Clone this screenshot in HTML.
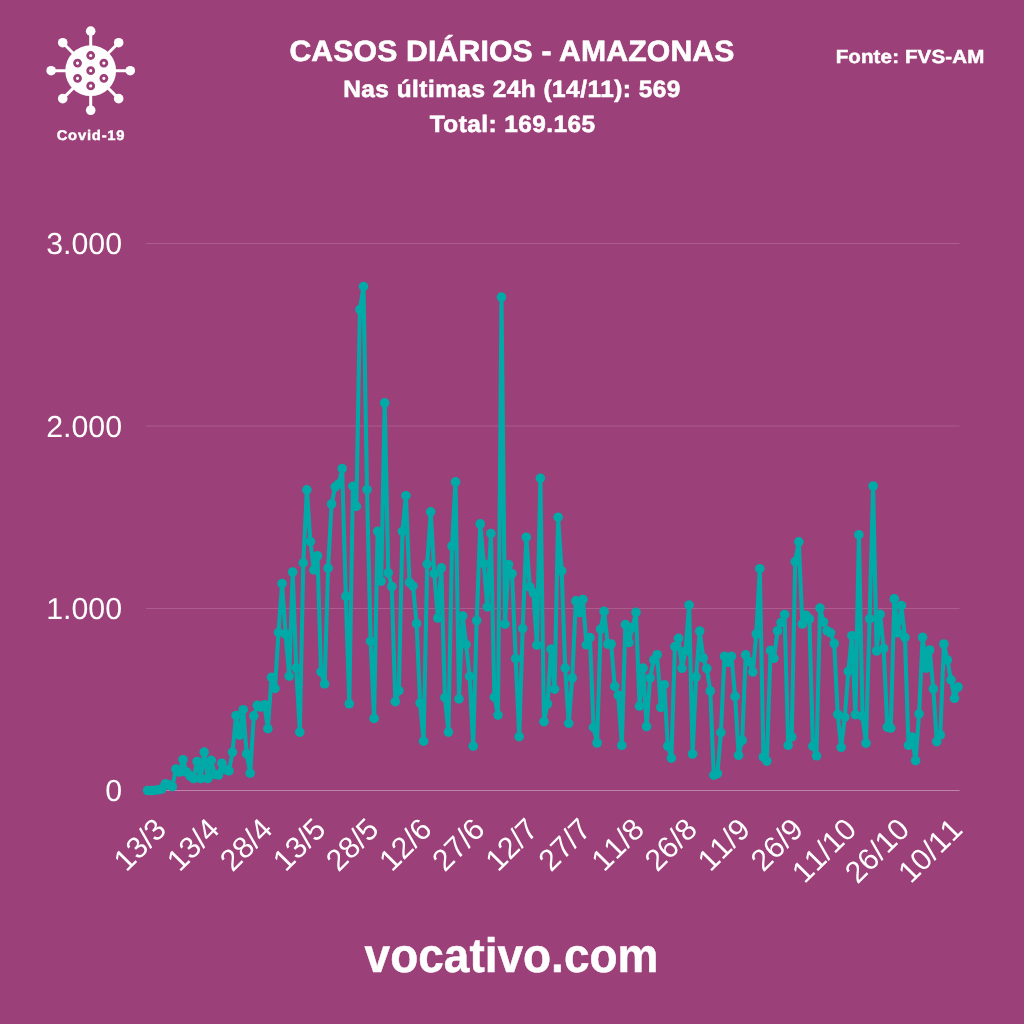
<!DOCTYPE html>
<html lang="pt-BR">
<head>
<meta charset="utf-8">
<title>Casos diários - Amazonas</title>
<style>
html,body{margin:0;padding:0;background:#9b4079;}
body{width:1024px;height:1024px;overflow:hidden;}
svg{display:block;}
text{font-family:'Liberation Sans', Arial, sans-serif;fill:#fff;text-rendering:geometricPrecision;}
.b{font-weight:bold;}
.ax{font-kerning:none;}
</style>
</head>
<body>
<svg width="1024" height="1024" viewBox="0 0 1024 1024">
<rect width="1024" height="1024" fill="#9b4079"/>
<g opacity="0.999">
<g id="virus">
<line x1="90.7" y1="70.7" x2="130.25" y2="70.70" stroke="#fff" stroke-width="3"/>
<circle cx="130.25" cy="70.70" r="4.8" fill="#fff"/>
<line x1="90.7" y1="70.7" x2="118.67" y2="98.67" stroke="#fff" stroke-width="3"/>
<circle cx="118.67" cy="98.67" r="4.8" fill="#fff"/>
<line x1="90.7" y1="70.7" x2="90.70" y2="110.25" stroke="#fff" stroke-width="3"/>
<circle cx="90.70" cy="110.25" r="4.8" fill="#fff"/>
<line x1="90.7" y1="70.7" x2="62.73" y2="98.67" stroke="#fff" stroke-width="3"/>
<circle cx="62.73" cy="98.67" r="4.8" fill="#fff"/>
<line x1="90.7" y1="70.7" x2="51.15" y2="70.70" stroke="#fff" stroke-width="3"/>
<circle cx="51.15" cy="70.70" r="4.8" fill="#fff"/>
<line x1="90.7" y1="70.7" x2="62.73" y2="42.73" stroke="#fff" stroke-width="3"/>
<circle cx="62.73" cy="42.73" r="4.8" fill="#fff"/>
<line x1="90.7" y1="70.7" x2="90.70" y2="31.15" stroke="#fff" stroke-width="3"/>
<circle cx="90.70" cy="31.15" r="4.8" fill="#fff"/>
<line x1="90.7" y1="70.7" x2="118.67" y2="42.73" stroke="#fff" stroke-width="3"/>
<circle cx="118.67" cy="42.73" r="4.8" fill="#fff"/>
<circle cx="90.7" cy="70.7" r="25.4" fill="#fff"/>
<circle cx="90.70" cy="70.70" r="3" fill="#fff" stroke="#9b4079" stroke-width="2.8"/>
<circle cx="90.70" cy="85.90" r="3" fill="#fff" stroke="#9b4079" stroke-width="2.8"/>
<circle cx="77.54" cy="78.30" r="3" fill="#fff" stroke="#9b4079" stroke-width="2.8"/>
<circle cx="77.54" cy="63.10" r="3" fill="#fff" stroke="#9b4079" stroke-width="2.8"/>
<circle cx="90.70" cy="55.50" r="3" fill="#fff" stroke="#9b4079" stroke-width="2.8"/>
<circle cx="103.86" cy="63.10" r="3" fill="#fff" stroke="#9b4079" stroke-width="2.8"/>
<circle cx="103.86" cy="78.30" r="3" fill="#fff" stroke="#9b4079" stroke-width="2.8"/>
</g>
<text class="b" x="0" y="0" font-size="14" text-anchor="middle" letter-spacing="0.71" stroke="#fff" stroke-width="0.4" transform="translate(91.0 140.0) scale(1.06 1)">Covid-19</text>
<text class="b" x="0" y="0" font-size="29.3" text-anchor="middle" letter-spacing="0.15" stroke="#fff" stroke-width="0.6" transform="translate(512 60.6) scale(1.03 1)">CASOS DIÁRIOS - AMAZONAS</text>
<text class="b" x="0" y="0" font-size="23.7" text-anchor="middle" letter-spacing="0.47" stroke="#fff" stroke-width="0.6" transform="translate(512 96.5) scale(1.03 1)">Nas últimas 24h (14/11): 569</text>
<text class="b" x="0" y="0" font-size="23.7" text-anchor="middle" letter-spacing="0.43" stroke="#fff" stroke-width="0.6" transform="translate(512.7 131.6) scale(1.03 1)">Total: 169.165</text>
<text class="b" x="0" y="0" font-size="19" text-anchor="middle" letter-spacing="0.12" stroke="#fff" stroke-width="0.5" transform="translate(910 63.3) scale(1.08 1)">Fonte: FVS-AM</text>
<line x1="146" y1="790.5" x2="959.5" y2="790.5" stroke="#c084ac" stroke-width="1"/>
<text class="ax" x="122.0" y="801.3" font-size="30.3" text-anchor="end">0</text>
<line x1="146" y1="608.5" x2="959.5" y2="608.5" stroke="#ab5e8f" stroke-width="1"/>
<text class="ax" x="122.0" y="619.3" font-size="30.3" text-anchor="end">1.000</text>
<line x1="146" y1="426.0" x2="959.5" y2="426.0" stroke="#ab5e8f" stroke-width="1"/>
<text class="ax" x="122.0" y="436.8" font-size="30.3" text-anchor="end">2.000</text>
<line x1="146" y1="243.5" x2="959.5" y2="243.5" stroke="#ab5e8f" stroke-width="1"/>
<text class="ax" x="122.0" y="254.3" font-size="30.3" text-anchor="end">3.000</text>
<polyline fill="none" stroke="#00aaa8" stroke-width="4.1" stroke-linejoin="round" stroke-linecap="round" points="147.6,790.5 151.1,790.5 154.7,790.3 158.2,789.8 161.8,789.0 165.3,783.8 168.8,784.9 172.4,786.7 175.9,769.1 179.5,772.0 183.0,759.7 186.5,772.0 190.1,776.1 193.6,778.5 197.1,761.5 200.7,778.5 204.2,752.1 207.8,778.5 211.3,760.3 214.8,774.4 218.4,775.0 221.9,763.2 225.5,769.7 229.0,770.9 232.5,752.1 236.1,715.5 239.6,735.1 243.2,709.7 246.7,753.9 250.2,773.2 253.8,715.8 257.3,705.4 260.8,707.0 264.4,704.7 267.9,728.7 271.5,677.3 275.0,688.4 278.5,632.5 282.1,583.6 285.6,634.0 289.2,676.1 292.7,572.0 296.2,667.8 299.8,732.1 303.3,562.9 306.9,489.8 310.4,541.6 313.9,569.9 317.5,555.9 321.0,671.8 324.6,683.9 328.1,568.2 331.6,504.0 335.2,486.9 338.7,484.0 342.2,468.6 345.8,596.4 349.3,703.8 352.9,486.2 356.4,506.4 359.9,309.6 363.5,286.6 367.0,489.5 370.6,641.2 374.1,718.4 377.6,531.3 381.2,581.2 384.7,402.9 388.3,572.9 391.8,586.5 395.3,701.7 398.9,690.6 402.4,531.3 405.9,495.7 409.5,582.5 413.0,586.1 416.6,623.7 420.1,703.0 423.6,741.2 427.2,564.1 430.7,511.8 434.3,573.7 437.8,618.0 441.3,567.9 444.9,697.7 448.4,732.1 452.0,546.0 455.5,481.9 459.0,698.9 462.6,616.0 466.1,644.6 469.6,676.4 473.2,746.2 476.7,620.5 480.3,523.9 483.8,563.7 487.3,606.9 490.9,533.5 494.4,697.2 498.0,715.1 501.5,297.1 505.0,624.2 508.6,564.6 512.1,573.7 515.7,658.7 519.2,736.7 522.7,628.6 526.3,537.2 529.8,587.0 533.4,592.8 536.9,645.2 540.4,478.2 544.0,721.6 547.5,703.8 551.0,649.1 554.6,689.2 558.1,517.2 561.7,570.9 565.2,668.1 568.7,723.3 572.3,678.0 575.8,600.9 579.4,612.5 582.9,599.5 586.4,644.8 590.0,637.6 593.5,727.4 597.1,743.0 600.6,629.1 604.1,611.4 607.7,644.1 611.2,644.1 614.7,686.4 618.3,695.3 621.8,745.4 625.4,624.6 628.9,642.5 632.4,627.6 636.0,612.4 639.5,706.1 643.1,668.1 646.6,726.5 650.1,678.0 653.7,660.0 657.2,654.7 660.8,707.4 664.3,684.7 667.8,746.2 671.4,758.1 674.9,646.6 678.5,638.3 682.0,668.3 685.5,651.0 689.1,605.1 692.6,754.0 696.1,676.8 699.7,631.1 703.2,657.8 706.8,668.5 710.3,691.0 713.8,775.2 717.4,773.6 720.9,732.6 724.5,656.3 728.0,662.3 731.5,656.3 735.1,696.4 738.6,755.3 742.2,740.4 745.7,654.9 749.2,661.5 752.8,672.0 756.3,634.0 759.8,568.7 763.4,757.0 766.9,761.1 770.5,650.4 774.0,658.3 777.5,630.8 781.1,622.5 784.6,614.5 788.2,745.3 791.7,737.0 795.2,561.6 798.8,541.8 802.3,624.0 805.9,615.2 809.4,618.8 812.9,746.2 816.5,755.8 820.0,608.1 823.5,622.0 827.1,630.8 830.6,632.8 834.2,643.5 837.7,714.3 841.2,747.3 844.8,717.1 848.3,671.4 851.9,635.7 855.4,714.6 858.9,534.7 862.5,716.3 866.0,743.2 869.6,618.8 873.1,486.0 876.6,651.0 880.2,614.3 883.7,648.5 887.3,727.1 890.8,728.2 894.3,598.9 897.9,632.8 901.4,605.6 904.9,637.5 908.5,745.3 912.0,737.0 915.6,760.6 919.1,713.8 922.6,637.3 926.2,668.1 929.7,650.0 933.3,688.9 936.8,741.6 940.3,734.8 943.9,644.0 947.4,660.0 951.0,679.9 954.5,698.3 958.0,687.0"/>
<g fill="#00aaa8">
<circle cx="147.6" cy="790.5" r="4.8"/><circle cx="151.1" cy="790.5" r="4.8"/><circle cx="154.7" cy="790.3" r="4.8"/><circle cx="158.2" cy="789.8" r="4.8"/><circle cx="161.8" cy="789.0" r="4.8"/><circle cx="165.3" cy="783.8" r="4.8"/><circle cx="168.8" cy="784.9" r="4.8"/><circle cx="172.4" cy="786.7" r="4.8"/><circle cx="175.9" cy="769.1" r="4.8"/><circle cx="179.5" cy="772.0" r="4.8"/><circle cx="183.0" cy="759.7" r="4.8"/><circle cx="186.5" cy="772.0" r="4.8"/><circle cx="190.1" cy="776.1" r="4.8"/><circle cx="193.6" cy="778.5" r="4.8"/><circle cx="197.1" cy="761.5" r="4.8"/><circle cx="200.7" cy="778.5" r="4.8"/><circle cx="204.2" cy="752.1" r="4.8"/><circle cx="207.8" cy="778.5" r="4.8"/><circle cx="211.3" cy="760.3" r="4.8"/><circle cx="214.8" cy="774.4" r="4.8"/><circle cx="218.4" cy="775.0" r="4.8"/><circle cx="221.9" cy="763.2" r="4.8"/><circle cx="225.5" cy="769.7" r="4.8"/><circle cx="229.0" cy="770.9" r="4.8"/><circle cx="232.5" cy="752.1" r="4.8"/><circle cx="236.1" cy="715.5" r="4.8"/><circle cx="239.6" cy="735.1" r="4.8"/><circle cx="243.2" cy="709.7" r="4.8"/><circle cx="246.7" cy="753.9" r="4.8"/><circle cx="250.2" cy="773.2" r="4.8"/><circle cx="253.8" cy="715.8" r="4.8"/><circle cx="257.3" cy="705.4" r="4.8"/><circle cx="260.8" cy="707.0" r="4.8"/><circle cx="264.4" cy="704.7" r="4.8"/><circle cx="267.9" cy="728.7" r="4.8"/><circle cx="271.5" cy="677.3" r="4.8"/><circle cx="275.0" cy="688.4" r="4.8"/><circle cx="278.5" cy="632.5" r="4.8"/><circle cx="282.1" cy="583.6" r="4.8"/><circle cx="285.6" cy="634.0" r="4.8"/><circle cx="289.2" cy="676.1" r="4.8"/><circle cx="292.7" cy="572.0" r="4.8"/><circle cx="296.2" cy="667.8" r="4.8"/><circle cx="299.8" cy="732.1" r="4.8"/><circle cx="303.3" cy="562.9" r="4.8"/><circle cx="306.9" cy="489.8" r="4.8"/><circle cx="310.4" cy="541.6" r="4.8"/><circle cx="313.9" cy="569.9" r="4.8"/><circle cx="317.5" cy="555.9" r="4.8"/><circle cx="321.0" cy="671.8" r="4.8"/><circle cx="324.6" cy="683.9" r="4.8"/><circle cx="328.1" cy="568.2" r="4.8"/><circle cx="331.6" cy="504.0" r="4.8"/><circle cx="335.2" cy="486.9" r="4.8"/><circle cx="338.7" cy="484.0" r="4.8"/><circle cx="342.2" cy="468.6" r="4.8"/><circle cx="345.8" cy="596.4" r="4.8"/><circle cx="349.3" cy="703.8" r="4.8"/><circle cx="352.9" cy="486.2" r="4.8"/><circle cx="356.4" cy="506.4" r="4.8"/><circle cx="359.9" cy="309.6" r="4.8"/><circle cx="363.5" cy="286.6" r="4.8"/><circle cx="367.0" cy="489.5" r="4.8"/><circle cx="370.6" cy="641.2" r="4.8"/><circle cx="374.1" cy="718.4" r="4.8"/><circle cx="377.6" cy="531.3" r="4.8"/><circle cx="381.2" cy="581.2" r="4.8"/><circle cx="384.7" cy="402.9" r="4.8"/><circle cx="388.3" cy="572.9" r="4.8"/><circle cx="391.8" cy="586.5" r="4.8"/><circle cx="395.3" cy="701.7" r="4.8"/><circle cx="398.9" cy="690.6" r="4.8"/><circle cx="402.4" cy="531.3" r="4.8"/><circle cx="405.9" cy="495.7" r="4.8"/><circle cx="409.5" cy="582.5" r="4.8"/><circle cx="413.0" cy="586.1" r="4.8"/><circle cx="416.6" cy="623.7" r="4.8"/><circle cx="420.1" cy="703.0" r="4.8"/><circle cx="423.6" cy="741.2" r="4.8"/><circle cx="427.2" cy="564.1" r="4.8"/><circle cx="430.7" cy="511.8" r="4.8"/><circle cx="434.3" cy="573.7" r="4.8"/><circle cx="437.8" cy="618.0" r="4.8"/><circle cx="441.3" cy="567.9" r="4.8"/><circle cx="444.9" cy="697.7" r="4.8"/><circle cx="448.4" cy="732.1" r="4.8"/><circle cx="452.0" cy="546.0" r="4.8"/><circle cx="455.5" cy="481.9" r="4.8"/><circle cx="459.0" cy="698.9" r="4.8"/><circle cx="462.6" cy="616.0" r="4.8"/><circle cx="466.1" cy="644.6" r="4.8"/><circle cx="469.6" cy="676.4" r="4.8"/><circle cx="473.2" cy="746.2" r="4.8"/><circle cx="476.7" cy="620.5" r="4.8"/><circle cx="480.3" cy="523.9" r="4.8"/><circle cx="483.8" cy="563.7" r="4.8"/><circle cx="487.3" cy="606.9" r="4.8"/><circle cx="490.9" cy="533.5" r="4.8"/><circle cx="494.4" cy="697.2" r="4.8"/><circle cx="498.0" cy="715.1" r="4.8"/><circle cx="501.5" cy="297.1" r="4.8"/><circle cx="505.0" cy="624.2" r="4.8"/><circle cx="508.6" cy="564.6" r="4.8"/><circle cx="512.1" cy="573.7" r="4.8"/><circle cx="515.7" cy="658.7" r="4.8"/><circle cx="519.2" cy="736.7" r="4.8"/><circle cx="522.7" cy="628.6" r="4.8"/><circle cx="526.3" cy="537.2" r="4.8"/><circle cx="529.8" cy="587.0" r="4.8"/><circle cx="533.4" cy="592.8" r="4.8"/><circle cx="536.9" cy="645.2" r="4.8"/><circle cx="540.4" cy="478.2" r="4.8"/><circle cx="544.0" cy="721.6" r="4.8"/><circle cx="547.5" cy="703.8" r="4.8"/><circle cx="551.0" cy="649.1" r="4.8"/><circle cx="554.6" cy="689.2" r="4.8"/><circle cx="558.1" cy="517.2" r="4.8"/><circle cx="561.7" cy="570.9" r="4.8"/><circle cx="565.2" cy="668.1" r="4.8"/><circle cx="568.7" cy="723.3" r="4.8"/><circle cx="572.3" cy="678.0" r="4.8"/><circle cx="575.8" cy="600.9" r="4.8"/><circle cx="579.4" cy="612.5" r="4.8"/><circle cx="582.9" cy="599.5" r="4.8"/><circle cx="586.4" cy="644.8" r="4.8"/><circle cx="590.0" cy="637.6" r="4.8"/><circle cx="593.5" cy="727.4" r="4.8"/><circle cx="597.1" cy="743.0" r="4.8"/><circle cx="600.6" cy="629.1" r="4.8"/><circle cx="604.1" cy="611.4" r="4.8"/><circle cx="607.7" cy="644.1" r="4.8"/><circle cx="611.2" cy="644.1" r="4.8"/><circle cx="614.7" cy="686.4" r="4.8"/><circle cx="618.3" cy="695.3" r="4.8"/><circle cx="621.8" cy="745.4" r="4.8"/><circle cx="625.4" cy="624.6" r="4.8"/><circle cx="628.9" cy="642.5" r="4.8"/><circle cx="632.4" cy="627.6" r="4.8"/><circle cx="636.0" cy="612.4" r="4.8"/><circle cx="639.5" cy="706.1" r="4.8"/><circle cx="643.1" cy="668.1" r="4.8"/><circle cx="646.6" cy="726.5" r="4.8"/><circle cx="650.1" cy="678.0" r="4.8"/><circle cx="653.7" cy="660.0" r="4.8"/><circle cx="657.2" cy="654.7" r="4.8"/><circle cx="660.8" cy="707.4" r="4.8"/><circle cx="664.3" cy="684.7" r="4.8"/><circle cx="667.8" cy="746.2" r="4.8"/><circle cx="671.4" cy="758.1" r="4.8"/><circle cx="674.9" cy="646.6" r="4.8"/><circle cx="678.5" cy="638.3" r="4.8"/><circle cx="682.0" cy="668.3" r="4.8"/><circle cx="685.5" cy="651.0" r="4.8"/><circle cx="689.1" cy="605.1" r="4.8"/><circle cx="692.6" cy="754.0" r="4.8"/><circle cx="696.1" cy="676.8" r="4.8"/><circle cx="699.7" cy="631.1" r="4.8"/><circle cx="703.2" cy="657.8" r="4.8"/><circle cx="706.8" cy="668.5" r="4.8"/><circle cx="710.3" cy="691.0" r="4.8"/><circle cx="713.8" cy="775.2" r="4.8"/><circle cx="717.4" cy="773.6" r="4.8"/><circle cx="720.9" cy="732.6" r="4.8"/><circle cx="724.5" cy="656.3" r="4.8"/><circle cx="728.0" cy="662.3" r="4.8"/><circle cx="731.5" cy="656.3" r="4.8"/><circle cx="735.1" cy="696.4" r="4.8"/><circle cx="738.6" cy="755.3" r="4.8"/><circle cx="742.2" cy="740.4" r="4.8"/><circle cx="745.7" cy="654.9" r="4.8"/><circle cx="749.2" cy="661.5" r="4.8"/><circle cx="752.8" cy="672.0" r="4.8"/><circle cx="756.3" cy="634.0" r="4.8"/><circle cx="759.8" cy="568.7" r="4.8"/><circle cx="763.4" cy="757.0" r="4.8"/><circle cx="766.9" cy="761.1" r="4.8"/><circle cx="770.5" cy="650.4" r="4.8"/><circle cx="774.0" cy="658.3" r="4.8"/><circle cx="777.5" cy="630.8" r="4.8"/><circle cx="781.1" cy="622.5" r="4.8"/><circle cx="784.6" cy="614.5" r="4.8"/><circle cx="788.2" cy="745.3" r="4.8"/><circle cx="791.7" cy="737.0" r="4.8"/><circle cx="795.2" cy="561.6" r="4.8"/><circle cx="798.8" cy="541.8" r="4.8"/><circle cx="802.3" cy="624.0" r="4.8"/><circle cx="805.9" cy="615.2" r="4.8"/><circle cx="809.4" cy="618.8" r="4.8"/><circle cx="812.9" cy="746.2" r="4.8"/><circle cx="816.5" cy="755.8" r="4.8"/><circle cx="820.0" cy="608.1" r="4.8"/><circle cx="823.5" cy="622.0" r="4.8"/><circle cx="827.1" cy="630.8" r="4.8"/><circle cx="830.6" cy="632.8" r="4.8"/><circle cx="834.2" cy="643.5" r="4.8"/><circle cx="837.7" cy="714.3" r="4.8"/><circle cx="841.2" cy="747.3" r="4.8"/><circle cx="844.8" cy="717.1" r="4.8"/><circle cx="848.3" cy="671.4" r="4.8"/><circle cx="851.9" cy="635.7" r="4.8"/><circle cx="855.4" cy="714.6" r="4.8"/><circle cx="858.9" cy="534.7" r="4.8"/><circle cx="862.5" cy="716.3" r="4.8"/><circle cx="866.0" cy="743.2" r="4.8"/><circle cx="869.6" cy="618.8" r="4.8"/><circle cx="873.1" cy="486.0" r="4.8"/><circle cx="876.6" cy="651.0" r="4.8"/><circle cx="880.2" cy="614.3" r="4.8"/><circle cx="883.7" cy="648.5" r="4.8"/><circle cx="887.3" cy="727.1" r="4.8"/><circle cx="890.8" cy="728.2" r="4.8"/><circle cx="894.3" cy="598.9" r="4.8"/><circle cx="897.9" cy="632.8" r="4.8"/><circle cx="901.4" cy="605.6" r="4.8"/><circle cx="904.9" cy="637.5" r="4.8"/><circle cx="908.5" cy="745.3" r="4.8"/><circle cx="912.0" cy="737.0" r="4.8"/><circle cx="915.6" cy="760.6" r="4.8"/><circle cx="919.1" cy="713.8" r="4.8"/><circle cx="922.6" cy="637.3" r="4.8"/><circle cx="926.2" cy="668.1" r="4.8"/><circle cx="929.7" cy="650.0" r="4.8"/><circle cx="933.3" cy="688.9" r="4.8"/><circle cx="936.8" cy="741.6" r="4.8"/><circle cx="940.3" cy="734.8" r="4.8"/><circle cx="943.9" cy="644.0" r="4.8"/><circle cx="947.4" cy="660.0" r="4.8"/><circle cx="951.0" cy="679.9" r="4.8"/><circle cx="954.5" cy="698.3" r="4.8"/><circle cx="958.0" cy="687.0" r="4.8"/>
</g>
<text class="ax" x="168.0" y="831.0" font-size="30.3" text-anchor="end" transform="rotate(-45 168.0 831.0)">13/3</text>
<text class="ax" x="221.1" y="831.0" font-size="30.3" text-anchor="end" transform="rotate(-45 221.1 831.0)">13/4</text>
<text class="ax" x="274.2" y="831.0" font-size="30.3" text-anchor="end" transform="rotate(-45 274.2 831.0)">28/4</text>
<text class="ax" x="327.3" y="831.0" font-size="30.3" text-anchor="end" transform="rotate(-45 327.3 831.0)">13/5</text>
<text class="ax" x="380.3" y="831.0" font-size="30.3" text-anchor="end" transform="rotate(-45 380.3 831.0)">28/5</text>
<text class="ax" x="433.4" y="831.0" font-size="30.3" text-anchor="end" transform="rotate(-45 433.4 831.0)">12/6</text>
<text class="ax" x="486.5" y="831.0" font-size="30.3" text-anchor="end" transform="rotate(-45 486.5 831.0)">27/6</text>
<text class="ax" x="539.6" y="831.0" font-size="30.3" text-anchor="end" transform="rotate(-45 539.6 831.0)">12/7</text>
<text class="ax" x="592.7" y="831.0" font-size="30.3" text-anchor="end" transform="rotate(-45 592.7 831.0)">27/7</text>
<text class="ax" x="645.8" y="831.0" font-size="30.3" text-anchor="end" transform="rotate(-45 645.8 831.0)">11/8</text>
<text class="ax" x="698.9" y="831.0" font-size="30.3" text-anchor="end" transform="rotate(-45 698.9 831.0)">26/8</text>
<text class="ax" x="751.9" y="831.0" font-size="30.3" text-anchor="end" transform="rotate(-45 751.9 831.0)">11/9</text>
<text class="ax" x="805.0" y="831.0" font-size="30.3" text-anchor="end" transform="rotate(-45 805.0 831.0)">26/9</text>
<text class="ax" x="858.1" y="831.0" font-size="30.3" text-anchor="end" transform="rotate(-45 858.1 831.0)">11/10</text>
<text class="ax" x="911.2" y="831.0" font-size="30.3" text-anchor="end" transform="rotate(-45 911.2 831.0)">26/10</text>
<text class="ax" x="964.3" y="831.0" font-size="30.3" text-anchor="end" transform="rotate(-45 964.3 831.0)">10/11</text>
<text class="b" x="0" y="0" font-size="48.2" text-anchor="middle" transform="translate(511.5 971.8) scale(0.954 1)" stroke="#fff" stroke-width="0.5">vocativo.com</text>
</g>
</svg>
</body>
</html>
